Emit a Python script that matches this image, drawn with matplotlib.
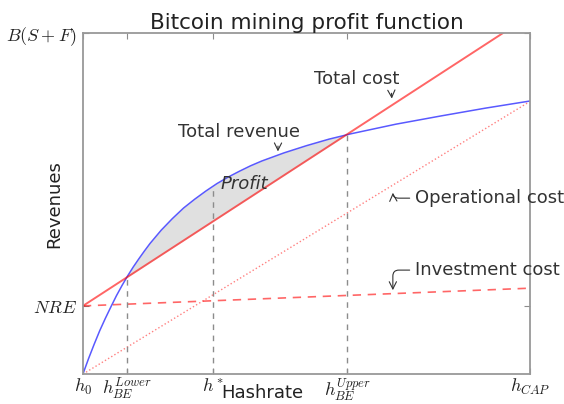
import numpy as np
import matplotlib
matplotlib.use('Agg')
import matplotlib.pyplot as plt

plt.rcParams['mathtext.fontset'] = 'cm'

# hashrate axis runs from h_0 = 0 to h_CAP = 1, revenues from 0 to B(S+F) = 1
tick_x = [0.0, 0.098, 0.291, 0.591, 1.0]
tick_x_labels = [r'$h_0$', r'$h_{BE}^{Lower}$', r'$h^*$', r'$h_{BE}^{Upper}$', r'$h_{CAP}$']
tick_y = [0.2, 1.0]
tick_y_labels = [r'$NRE$', r'$B(S+F)$']

# total revenue curve
rev_x = [0.0, 0.0125, 0.025, 0.0375, 0.05, 0.0625, 0.075, 0.0875, 0.1, 0.1125,
         0.125, 0.1375, 0.15, 0.175, 0.2, 0.225, 0.25, 0.275, 0.3, 0.325,
         0.35, 0.375, 0.4, 0.45, 0.5, 0.55, 0.6, 0.7, 0.8, 0.9, 1.0]
rev_y = [0.0, 0.045, 0.087, 0.127, 0.163, 0.197, 0.230, 0.260, 0.288, 0.314,
         0.338, 0.361, 0.383, 0.422, 0.456, 0.487, 0.513, 0.537, 0.559, 0.578,
         0.595, 0.611, 0.625, 0.649, 0.670, 0.689, 0.705, 0.733, 0.757, 0.780, 0.801]

# cost lines, end points
cost_x = [0.0, 1.0]
oper_cost = [0.0, 0.80]
inv_cost = [0.2, 0.252]
total_cost = [o + i for o, i in zip(oper_cost, inv_cost)]

# break-even / optimum guide lines, heights
guide_x = [0.098, 0.291, 0.591]
guide_top = [0.283, 0.551, 0.702]

fig = plt.figure(figsize=(5.64, 4.04), dpi=100)
ax = fig.add_axes([0.147, 0.074, 0.793, 0.844])

ax.plot(rev_x, rev_y, color='blue', alpha=0.65, lw=1.1)
ax.plot(cost_x, total_cost, color='red', alpha=0.6, lw=1.4)
ax.plot(cost_x, oper_cost, color='red', alpha=0.5, lw=1.0, ls=':')
ax.plot(cost_x, inv_cost, color='red', alpha=0.6, lw=1.2, ls='--', dashes=(5, 4))

rx = np.array(rev_x)
ry = np.array(rev_y)
cy = np.interp(rx, cost_x, total_cost)
ax.fill_between(rx, cy, ry, where=ry > cy, interpolate=True, color='0.88', lw=0)

for gx, gt in zip(guide_x, guide_top):
    ax.plot([gx, gx], [0, gt], color='0.55', lw=1.0, ls='--', dashes=(4, 4))

ax.set_xlim(0, 1)
ax.set_ylim(0, 1)
ax.set_xticks(tick_x)
ax.set_xticklabels(tick_x_labels, fontsize=13)
ax.set_yticks(tick_y)
ax.set_yticklabels(tick_y_labels, fontsize=13)
ax.tick_params(direction='in', top=True, right=True, length=4, color='0.55',
               labelcolor='#222222')
ax.tick_params(axis='x', pad=2)
ax.tick_params(axis='y', pad=4)
for s in ax.spines.values():
    s.set_color('0.6')
    s.set_linewidth(1.3)

ax.set_title('Bitcoin mining profit function', fontsize=15.5, color='#222222', pad=3)
ax.set_xlabel('Hashrate', fontsize=13, color='#222222')
ax.xaxis.set_label_coords(0.402, -0.03)
ax.set_ylabel('Revenues', fontsize=13, color='#222222')
ax.yaxis.set_label_coords(-0.045, 0.5)

txt = '#333333'
ax.annotate('Total cost', xy=(0.691, 0.80), xytext=(0.613, 0.84),
            ha='center', va='bottom', fontsize=13, color=txt,
            arrowprops=dict(arrowstyle='->', color=txt, lw=0.8, relpos=(0.9, 0.0)))
ax.annotate('Total revenue', xy=(0.436, 0.645), xytext=(0.349, 0.685),
            ha='center', va='bottom', fontsize=13, color=txt,
            arrowprops=dict(arrowstyle='->', color=txt, lw=0.8, relpos=(0.82, 0.0)))
ax.text(0.362, 0.557, 'Profit', fontsize=13, style='italic', color=txt,
        ha='center', va='center')
ax.annotate('Operational cost', xy=(0.693, 0.54), xytext=(0.743, 0.516),
            ha='left', va='center', fontsize=13, color=txt, annotation_clip=False,
            arrowprops=dict(arrowstyle='->', color=txt, lw=0.8, relpos=(0.0, 0.5),
                            connectionstyle='angle,angleA=0,angleB=90,rad=6'))
ax.annotate('Investment cost', xy=(0.693, 0.238), xytext=(0.743, 0.305),
            ha='left', va='center', fontsize=13, color=txt, annotation_clip=False,
            arrowprops=dict(arrowstyle='->', color=txt, lw=0.8, relpos=(0.0, 0.5),
                            connectionstyle='angle,angleA=0,angleB=90,rad=6'))

fig.savefig('out.png', dpi=100)
